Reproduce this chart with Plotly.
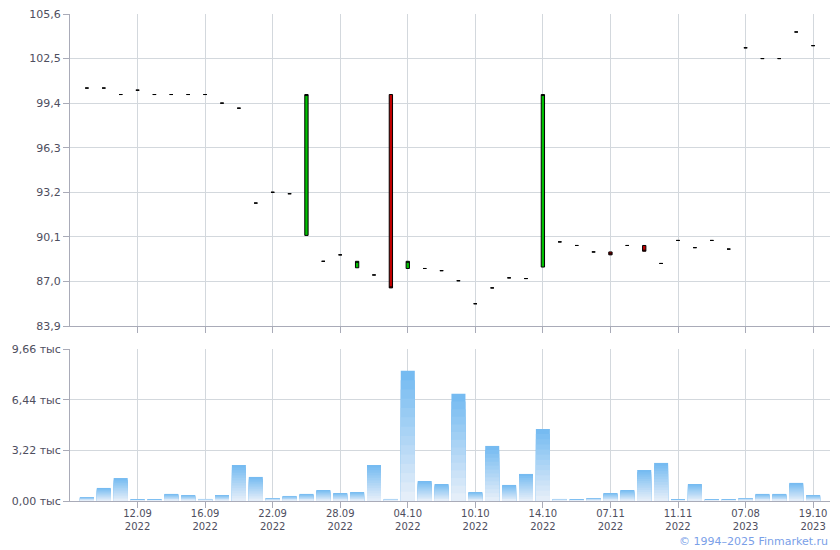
import plotly.graph_objects as go
from plotly.subplots import make_subplots

dates = ["07.09.2022", "08.09.2022", "09.09.2022", "12.09.2022", "13.09.2022", "14.09.2022",
         "15.09.2022", "16.09.2022", "19.09.2022", "20.09.2022", "21.09.2022", "22.09.2022",
         "23.09.2022", "26.09.2022", "27.09.2022", "28.09.2022", "29.09.2022", "30.09.2022",
         "03.10.2022", "04.10.2022", "05.10.2022", "06.10.2022", "07.10.2022", "10.10.2022",
         "11.10.2022", "12.10.2022", "13.10.2022", "14.10.2022", "18.10.2022", "25.10.2022",
         "01.11.2022", "07.11.2022", "08.11.2022", "09.11.2022", "10.11.2022", "11.11.2022",
         "14.11.2022", "21.11.2022", "05.12.2022", "07.08.2023", "15.08.2023", "01.09.2023",
         "20.09.2023", "19.10.2023"]

open_ = [100.45, 100.45, 100.0, 100.3, 100.0, 100.0, 100.0, 100.0, 99.4, 99.05,
         92.45, 93.2, 93.1, 90.2, 88.4, 88.85, 87.95, 87.45, 100.0, 87.9,
         87.9, 87.75, 87.05, 85.45, 86.55, 87.25, 87.2, 88.0, 89.75, 89.5,
         89.05, 89.05, 89.5, 89.5, 88.25, 89.85, 89.35, 89.85, 89.25, 103.25,
         102.5, 102.5, 104.35, 103.4]
close = [100.45, 100.45, 100.0, 100.3, 100.0, 100.0, 100.0, 100.0, 99.4, 99.05,
         92.45, 93.2, 93.1, 100.0, 88.4, 88.85, 88.4, 87.45, 86.55, 88.4,
         87.9, 87.75, 87.05, 85.45, 86.55, 87.25, 87.2, 100.0, 89.75, 89.5,
         89.05, 88.85, 89.5, 89.1, 88.25, 89.85, 89.35, 89.85, 89.25, 103.25,
         102.5, 102.5, 104.35, 103.4]
high = [max(o, c) for o, c in zip(open_, close)]
low = [min(o, c) for o, c in zip(open_, close)]

volume_k = [0.25, 0.83, 1.46, 0.07, 0.07, 0.45, 0.38, 0.13, 0.38, 2.29,
            1.53, 0.19, 0.32, 0.45, 0.70, 0.51, 0.57, 2.29, 0.13, 8.27,
            1.27, 1.08, 6.81, 0.57, 3.50, 1.02, 1.72, 4.58, 0.13, 0.07,
            0.19, 0.51, 0.70, 1.97, 2.42, 0.07, 1.08, 0.07, 0.07, 0.19,
            0.45, 0.45, 1.15, 0.38]

tick_dates = ["12.09.2022", "16.09.2022", "22.09.2022", "28.09.2022", "04.10.2022",
              "10.10.2022", "14.10.2022", "07.11.2022", "11.11.2022", "07.08.2023",
              "19.10.2023"]
tick_text = [d[:5] + "<br>" + d[6:] for d in tick_dates]

price_ticks = [83.9, 87.0, 90.1, 93.2, 96.3, 99.4, 102.5, 105.6]
price_labels = ["83,9", "87,0", "90,1", "93,2", "96,3", "99,4", "102,5", "105,6"]
volume_ticks = [0.0, 3.22, 6.44, 9.66]
volume_labels = ["0,00 тыс", "3,22 тыс", "6,44 тыс", "9,66 тыс"]

# page body has an 8px margin: compensate so the plot lands where the reference has it
OFF = 8
W, H = 840 - OFF, 550 - OFF
top_px, bottom_px = 14, 501
plot_h = bottom_px - top_px
up_lo = (501 - 326) / plot_h
lo_hi = (501 - 349) / plot_h

fig = make_subplots(rows=2, cols=1, shared_xaxes=False)

fig.add_trace(go.Candlestick(
    x=dates, open=open_, high=high, low=low, close=close,
    increasing=dict(fillcolor="#00c000", line=dict(color="#000000", width=1)),
    decreasing=dict(fillcolor="#c00000", line=dict(color="#000000", width=1)),
    whiskerwidth=0, showlegend=False, name="Цена"), row=1, col=1)

# stepped vertical gradient for each volume bar (top blue -> bottom pale)
N = 14
c_top = (0x76, 0xBB, 0xF1)
c_bot = (0xE4, 0xEE, 0xF9)
for k in range(N):
    frac = 1 - k / N
    t = k / (N - 1)
    col = "rgb(%d,%d,%d)" % tuple(round(a + (b - a) * t) for a, b in zip(c_top, c_bot))
    fig.add_trace(go.Bar(
        x=dates, y=[v * frac for v in volume_k], marker=dict(color=col, line=dict(width=0)),
        showlegend=False, hoverinfo="skip" if k else None, name="Объём"), row=2, col=1)

axis_common = dict(showgrid=True, gridcolor="#d3d8dd", gridwidth=1, showline=True,
                   linecolor="#a9abb8", linewidth=1, ticks="outside", ticklen=6,
                   tickcolor="#a9abb8", zeroline=False, automargin=False,
                   ticklabeloverflow="allow")

fig.update_xaxes(type="category", range=[-1, 44], tickmode="array", tickvals=tick_dates,
                 ticktext=tick_text, rangeslider=dict(visible=False),
                 tickfont=dict(size=10), ticklabelstandoff=-3, **axis_common)
fig.update_xaxes(showticklabels=False, row=1, col=1)
fig.update_xaxes(showticklabels=True, row=2, col=1)

fig.update_yaxes(range=[83.9, 105.6], tickmode="array", tickvals=price_ticks,
                 ticktext=price_labels, domain=[up_lo, 1], row=1, col=1, **axis_common)
fig.update_yaxes(range=[0, 9.66], tickmode="array", tickvals=volume_ticks,
                 ticktext=volume_labels, domain=[0, lo_hi], row=2, col=1, **axis_common)

fig.update_layout(
    width=W, height=H, autosize=False,
    margin=dict(l=70 - OFF, r=10, t=top_px - OFF, b=550 - bottom_px, pad=0),
    paper_bgcolor="white", plot_bgcolor="white",
    font=dict(family="DejaVu Sans", size=11, color="#4e4e5e"),
    barmode="overlay", bargap=0.17, boxgap=0.72,
    annotations=[dict(text="© 1994–2025 Finmarket.ru", xref="paper", yref="paper",
                      x=1.0, y=-40 / plot_h, xanchor="right", yanchor="middle",
                      showarrow=False,
                      font=dict(family="DejaVu Sans", size=11, color="#7aa0e8"))],
)

fig.write_html("out.html")
